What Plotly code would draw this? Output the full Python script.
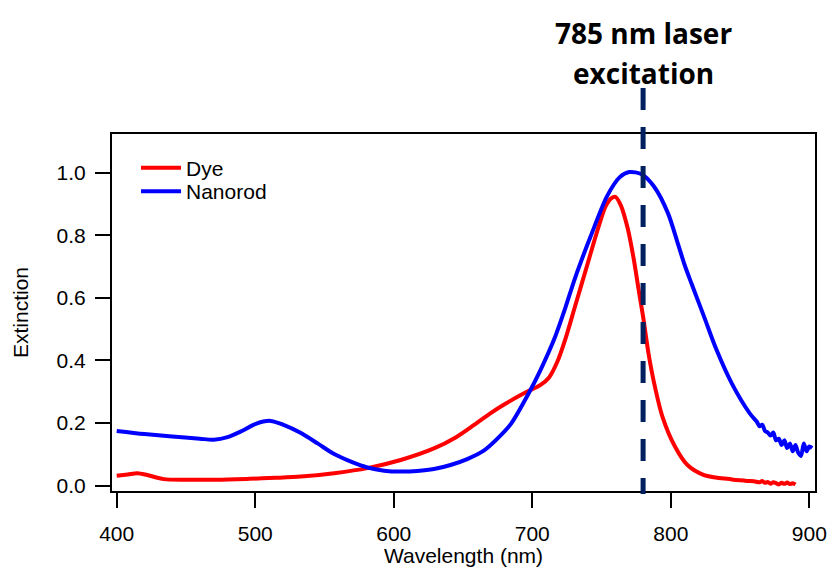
import plotly.graph_objects as go

# ---------------- data ----------------
dye_wl = [400, 408, 415, 422, 434, 450, 472, 496, 515, 533, 557, 581, 605, 629,
          645, 658, 670, 680, 694, 706, 712, 718, 724, 731, 740, 747, 753, 757,
          760, 764, 769, 773, 777, 780, 784, 788, 794, 803, 812, 824, 844, 850,
          855, 860, 864, 866, 868, 870, 872, 874, 876, 878, 880, 882, 884, 886,
          888, 890]
dye_ext = [0.032, 0.036, 0.040, 0.034, 0.021, 0.019, 0.019, 0.022, 0.025, 0.029,
           0.040, 0.056, 0.082, 0.119, 0.155, 0.194, 0.232, 0.260, 0.295, 0.322,
           0.345, 0.395, 0.470, 0.575, 0.710, 0.815, 0.893, 0.918, 0.923, 0.895,
           0.820, 0.730, 0.620, 0.540, 0.420, 0.327, 0.220, 0.125, 0.066, 0.034,
           0.020, 0.017, 0.015, 0.014, 0.011, 0.015, 0.009, 0.012, 0.006, 0.011,
           0.008, 0.004, 0.009, 0.006, 0.010, 0.005, 0.008, 0.004]

rod_wl = [400, 420, 440, 460, 470, 480, 490, 500, 511, 520, 533, 545, 557, 570,
          581, 593, 605, 617, 629, 641, 653, 665, 677, 685, 698, 706, 716, 724,
          731, 742, 754, 763, 770, 779, 788, 798, 805, 810, 815, 824, 833, 844,
          857, 860, 862, 864, 866, 868, 870, 872, 874, 876, 878, 880, 882, 884,
          886, 888, 890, 892, 894, 896, 898, 900, 902]
rod_ext = [0.175, 0.165, 0.157, 0.150, 0.147, 0.155, 0.174, 0.197, 0.207, 0.195,
           0.168, 0.135, 0.101, 0.075, 0.058, 0.048, 0.045, 0.047, 0.053, 0.066,
           0.085, 0.112, 0.160, 0.200, 0.300, 0.370, 0.470, 0.570, 0.665, 0.795,
           0.925, 0.985, 1.002, 0.995, 0.955, 0.870, 0.775, 0.705, 0.645, 0.540,
           0.434, 0.327, 0.231, 0.215, 0.205, 0.190, 0.195, 0.175, 0.170, 0.160,
           0.170, 0.145, 0.150, 0.130, 0.145, 0.120, 0.135, 0.110, 0.130, 0.105,
           0.095, 0.135, 0.110, 0.125, 0.120]

laser_wl = 780
title_lines = ["785 nm laser", "excitation"]
x_ticks = [400, 500, 600, 700, 800, 900]
y_ticks = [0.0, 0.2, 0.4, 0.6, 0.8, 1.0]

# ---------------- layout constants ----------------
W, H = 829, 567
ML, MR, MT, MB = 112, 14, 134, 76
PH = H - MT - MB
PW = W - ML - MR


def py(p):
    """pixel row -> paper y"""
    return (H - MB - p) / PH


def px(p):
    return (p - ML) / PW


AXFONT = dict(family="Liberation Sans, Arial, sans-serif", size=21, color="black")

fig = go.Figure()
fig.add_trace(go.Scatter(x=dye_wl, y=dye_ext, mode="lines", name="Dye",
                         line=dict(color="#ff0000", width=4, shape="spline", smoothing=0.8),
                         legend="legend"))
fig.add_trace(go.Scatter(x=rod_wl, y=rod_ext, mode="lines", name="Nanorod",
                         line=dict(color="#0000ff", width=4, shape="spline", smoothing=0.8),
                         legend="legend2"))

fig.add_shape(type="line", xref="x", yref="paper", x0=laser_wl, x1=laser_wl,
              y0=py(88), y1=py(494),
              line=dict(color="#002060", width=5, dash="22px,17px"), layer="above")

for i, t in enumerate(title_lines):
    fig.add_annotation(text="<b>%s</b>" % t, xref="x", yref="paper", x=laser_wl,
                       y=py([33, 73][i]), xanchor="center", yanchor="middle",
                       showarrow=False,
                       font=dict(family="Open Sans", size=28, color="black"))

leg_common = dict(bgcolor="rgba(0,0,0,0)", borderwidth=0, font=AXFONT,
                  xanchor="left", yanchor="middle", itemwidth=40)
fig.update_layout(
    width=W, height=H,
    margin=dict(l=ML, r=MR, t=MT, b=MB, autoexpand=False),
    paper_bgcolor="white", plot_bgcolor="white",
    showlegend=True,
    legend=dict(x=px(136), y=py(168), **leg_common),
    legend2=dict(x=px(136), y=py(191.5), **leg_common),
    xaxis=dict(range=[396.6, 904.1], tickvals=x_ticks, ticks="outside", ticklen=15,
               tickwidth=2, tickcolor="black", showline=True, linewidth=2,
               linecolor="black", mirror=True, showgrid=False, zeroline=False,
               automargin=False, ticklabelstandoff=8,
               tickfont=AXFONT, title=dict(text="Wavelength (nm)", font=AXFONT, standoff=6)),
    yaxis=dict(range=[-0.017, 1.1236], tickvals=y_ticks, tickformat=".1f",
               ticks="outside", ticklen=15, tickwidth=2, tickcolor="black",
               showline=True, linewidth=2, linecolor="black", mirror=True,
               showgrid=False, zeroline=False, automargin=False, tickfont=AXFONT,
               ticklabelstandoff=5,
               title=dict(text="Extinction", font=AXFONT, standoff=22)),
)

fig.write_html("out.html", config={"displayModeBar": False},
               post_script="document.body.style.margin='0';document.body.style.overflow='hidden';")
